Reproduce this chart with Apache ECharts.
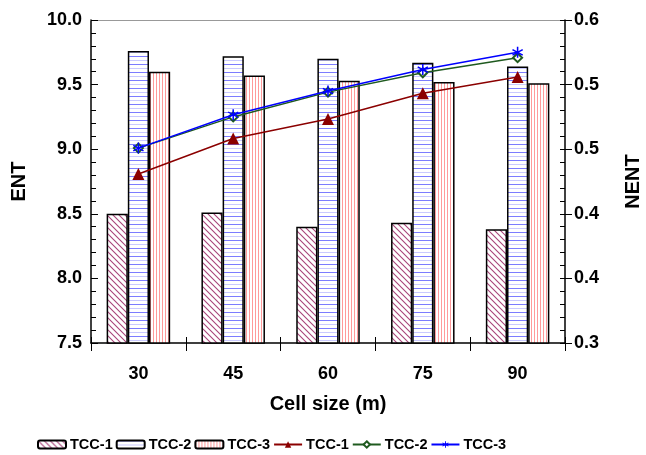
<!DOCTYPE html>
<html>
<head>
<meta charset="utf-8">
<script src="https://cdn.jsdelivr.net/npm/echarts@6/dist/echarts.min.js"></script>
<style>
  html, body { margin: 0; padding: 0; background: #fff; }
  #chart { width: 646px; height: 455px; }
</style>
</head>
<body>
<div id="chart"></div>
<script>
// Cell sizes (m)
const cellSizes = ['30', '45', '60', '75', '90'];

// ENT per cell size (bars, left axis)
const entTcc1 = [8.50, 8.51, 8.40, 8.43, 8.38];
const entTcc2 = [9.76, 9.72, 9.70, 9.67, 9.64];
const entTcc3 = [9.60, 9.57, 9.53, 9.52, 9.51];

// NENT per cell size (lines, right axis)
const nentTcc1 = [0.457, 0.490, 0.508, 0.532, 0.547];
const nentTcc2 = [0.481, 0.510, 0.533, 0.551, 0.565];
const nentTcc3 = [0.481, 0.512, 0.534, 0.554, 0.570];

const FONT = '"Liberation Sans", Arial, Helvetica, sans-serif';

// Fill patterns for the bars
function makePattern(w, h, draw) {
  const c = document.createElement('canvas');
  c.width = w; c.height = h;
  const g = c.getContext('2d');
  g.fillStyle = '#ffffff';
  g.fillRect(0, 0, w, h);
  draw(g);
  return { image: c, repeat: 'repeat' };
}
const hatchDiag = makePattern(6, 6, g => {
  g.strokeStyle = '#a8457a';
  g.lineWidth = 1.1;
  g.beginPath();
  g.moveTo(-1, -1); g.lineTo(7, 7);
  g.moveTo(-4, 2); g.lineTo(2, 8);
  g.moveTo(4, -2); g.lineTo(8, 2);
  g.stroke();
});
const hatchHoriz = makePattern(4, 8, g => {
  g.fillStyle = '#7c7cff';
  g.fillRect(0, 0, 4, 1);
  g.fillStyle = '#cacaff';
  g.fillRect(0, 4, 4, 1);
});
const hatchVert = makePattern(3, 4, g => {
  g.fillStyle = '#ff9a9a';
  g.fillRect(0, 0, 1, 4);
});

// Six-armed asterisk marker
function arm(theta) {
  const r = 10, hw = 1.3;
  const c = Math.cos(theta), s = Math.sin(theta);
  const px = -s * hw, py = c * hw;
  const p = [
    [r * c + px, r * s + py], [-r * c + px, -r * s + py],
    [-r * c - px, -r * s - py], [r * c - px, r * s - py]
  ];
  return 'M' + p.map(q => q[0].toFixed(2) + ',' + q[1].toFixed(2)).join('L') + 'Z';
}
const asterisk = 'path://' + arm(Math.PI / 2) + arm(Math.PI / 6) + arm(5 * Math.PI / 6);

const tickText = { fontFamily: FONT, fontWeight: 'bold', fontSize: 18, color: '#000' };
const nameText = { fontFamily: FONT, fontWeight: 'bold', fontSize: 20, color: '#000' };

const barBorder = { borderColor: '#000', borderWidth: 1.5 };

const chart = echarts.init(document.getElementById('chart'), null, { renderer: 'canvas' });
chart.setOption({
  animation: false,
  backgroundColor: '#fff',
  grid: { left: 91, right: 81, top: 20, bottom: 112, containLabel: false, outerBoundsMode: 'none' },
  legend: {
    left: 37, top: 437, padding: 0,
    itemWidth: 28, itemHeight: 8, itemGap: 3,
    textStyle: { fontFamily: FONT, fontWeight: 'bold', fontSize: 14.5, color: '#000', padding: [0, 0, 0, -1] },
    formatter: n => n.trim(),
    data: ['TCC-1', 'TCC-2', 'TCC-3', 'TCC-1 ', 'TCC-2 ', 'TCC-3 ']
  },
  xAxis: [
    {
      type: 'category', data: cellSizes, position: 'bottom',
      name: 'Cell size (m)', nameLocation: 'middle', nameGap: 51, nameTextStyle: nameText,
      axisLine: { lineStyle: { color: '#000', width: 1.5 } },
      axisTick: { show: true, interval: 0, length: 8, lineStyle: { color: '#000', width: 1 } },
      axisLabel: Object.assign({ margin: 22 }, tickText),
      splitLine: { show: false }
    },
    {
      // inner half of the category ticks
      type: 'category', data: cellSizes, position: 'bottom',
      axisLine: { show: false },
      axisTick: { show: true, inside: true, interval: 0, length: 6, lineStyle: { color: '#000', width: 1 } },
      axisLabel: { show: false }, splitLine: { show: false }
    },
    {
      // top frame line
      type: 'category', data: cellSizes, position: 'top',
      axisLine: { lineStyle: { color: '#999', width: 1 } },
      axisTick: { show: false }, axisLabel: { show: false }, splitLine: { show: false }
    }
  ],
  yAxis: [
    {
      type: 'value', position: 'left', min: 7.5, max: 10, interval: 0.5,
      name: 'ENT', nameLocation: 'middle', nameGap: 62, nameRotate: 90, nameTextStyle: nameText,
      axisLine: { show: true, lineStyle: { color: '#000', width: 1.5 } },
      axisTick: { show: true, inside: true, length: 7, lineStyle: { color: '#000', width: 1 } },
      minorTick: { show: true, splitNumber: 5, length: 5, lineStyle: { color: '#000', width: 1 } },
      axisLabel: Object.assign({ margin: 9, formatter: v => v.toFixed(1) }, tickText),
      splitLine: { show: false }
    },
    {
      type: 'value', position: 'right', min: 0.3, max: 0.6, interval: 0.06,
      name: 'NENT', nameLocation: 'middle', nameGap: 58, nameRotate: 90, nameTextStyle: nameText,
      axisLine: { show: true, lineStyle: { color: '#000', width: 1.5 } },
      axisTick: { show: true, inside: true, length: 5, lineStyle: { color: '#000', width: 1 } },
      minorTick: { show: true, splitNumber: 5, length: 5, lineStyle: { color: '#000', width: 1 } },
      axisLabel: Object.assign({ margin: 9, formatter: v => v.toFixed(1) }, tickText),
      splitLine: { show: false }
    },
    {
      // outer half of the right-hand major ticks
      type: 'value', position: 'right', min: 0.3, max: 0.6, interval: 0.06,
      axisLine: { show: false },
      axisTick: { show: true, inside: false, length: 7, lineStyle: { color: '#000', width: 1 } },
      axisLabel: { show: false }, splitLine: { show: false }
    }
  ],
  series: [
    {
      name: 'TCC-1', type: 'bar', data: entTcc1, yAxisIndex: 0,
      barGap: '0%', barCategoryGap: '33%',
      itemStyle: Object.assign({ color: hatchDiag }, barBorder)
    },
    {
      name: 'TCC-2', type: 'bar', data: entTcc2, yAxisIndex: 0,
      barGap: '0%', barCategoryGap: '33%',
      itemStyle: Object.assign({ color: hatchHoriz }, barBorder)
    },
    {
      name: 'TCC-3', type: 'bar', data: entTcc3, yAxisIndex: 0,
      barGap: '0%', barCategoryGap: '33%',
      itemStyle: Object.assign({ color: hatchVert }, barBorder)
    },
    {
      name: 'TCC-1 ', type: 'line', data: nentTcc1, yAxisIndex: 1, z: 5,
      symbol: 'triangle', symbolSize: 12, showAllSymbol: true,
      lineStyle: { color: '#8b0000', width: 1.5 },
      itemStyle: { color: '#8b0000' }
    },
    {
      name: 'TCC-2 ', type: 'line', data: nentTcc2, yAxisIndex: 1, z: 5,
      symbol: 'emptyDiamond', symbolSize: 9, showAllSymbol: true,
      lineStyle: { color: '#1f5a1f', width: 1.5 },
      itemStyle: { color: '#1f5a1f', borderWidth: 1.2 }
    },
    {
      name: 'TCC-3 ', type: 'line', data: nentTcc3, yAxisIndex: 1, z: 6,
      symbol: asterisk, symbolSize: 11, showAllSymbol: true,
      lineStyle: { color: '#0000ff', width: 1.5 },
      itemStyle: { color: '#0000ff' }
    }
  ]
});
</script>
</body>
</html>
